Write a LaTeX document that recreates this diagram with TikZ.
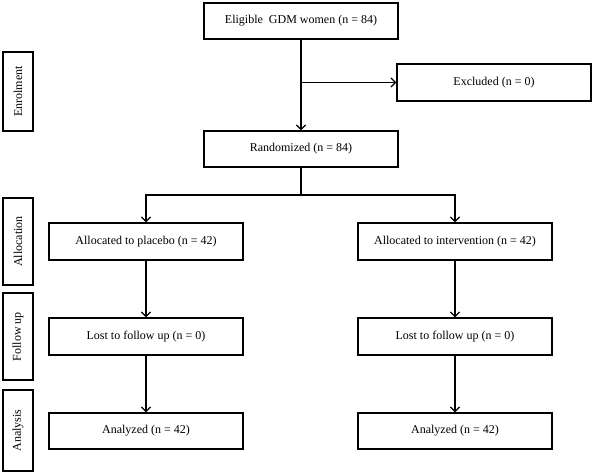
\documentclass[tikz,border=0pt]{standalone}
\usepackage{fontspec}
\setmainfont{Liberation Serif}
\usetikzlibrary{arrows.meta}
\begin{document}
\begin{tikzpicture}[x=1pt,y=-1pt,
  box/.style={draw,line width=1.3pt,minimum width=194pt,inner sep=0pt,font=\fontsize{12}{14}\selectfont},
  side/.style={draw,line width=1.3pt,minimum width=30pt,inner sep=0pt,font=\fontsize{12}{14}\selectfont},
  conn/.style={line width=1.3pt,-{Straight Barb[length=4.5pt,width=9pt]}},
  plain/.style={line width=1.3pt}]
\useasboundingbox (0,0) rectangle (594,474);
\node[box,minimum height=36pt] (elig) at (301,21) {Eligible\ \ GDM women (n = 84)};
\node[box,minimum height=37pt] (excl) at (494,82.5) {Excluded (n = 0)};
\node[box,minimum height=36pt] (rand) at (301,149) {Randomized (n = 84)};
\node[box,minimum height=37pt] (plac) at (146,241.5) {Allocated to placebo (n = 42)};
\node[box,minimum height=37pt] (intv) at (455,241.5) {Allocated to intervention (n = 42)};
\node[box,minimum height=37pt] (lost1) at (146,336.5) {Lost to follow up (n = 0)};
\node[box,minimum height=37pt] (lost2) at (455,336.5) {Lost to follow up (n = 0)};
\node[box,minimum height=36pt] (ana1) at (146,431) {Analyzed (n = 42)};
\node[box,minimum height=36pt] (ana2) at (455,431) {Analyzed (n = 42)};
\node[side,minimum height=79pt] (s1) at (18,91.5) {};
\node[rotate=90,font=\fontsize{12}{14}\selectfont] at (s1.center) {Enrolment};
\node[side,minimum height=87pt] (s2) at (18,241.5) {};
\node[rotate=90,font=\fontsize{12}{14}\selectfont] at (s2.center) {Allocation};
\node[side,minimum height=87pt] (s3) at (18,336.5) {};
\node[rotate=90,font=\fontsize{12}{14}\selectfont] at (s3.center) {Follow up};
\node[side,minimum height=81pt] (s4) at (18,430.5) {};
\node[rotate=90,font=\fontsize{12}{14}\selectfont] at (s4.center) {Analysis};
\draw[conn] (elig.south) -- (rand.north);
\coordinate (br) at (elig.south |- excl.west);
\draw[conn] (br) -- (excl.west);
\coordinate (split) at (301,195);
\draw[plain] (rand.south) -- (split);
\draw[conn] (split) -| (plac.north);
\draw[conn] (split) -| (intv.north);
\draw[conn] (plac) -- (lost1);
\draw[conn] (intv) -- (lost2);
\draw[conn] (lost1) -- (ana1);
\draw[conn] (lost2) -- (ana2);
\end{tikzpicture}
\end{document}
